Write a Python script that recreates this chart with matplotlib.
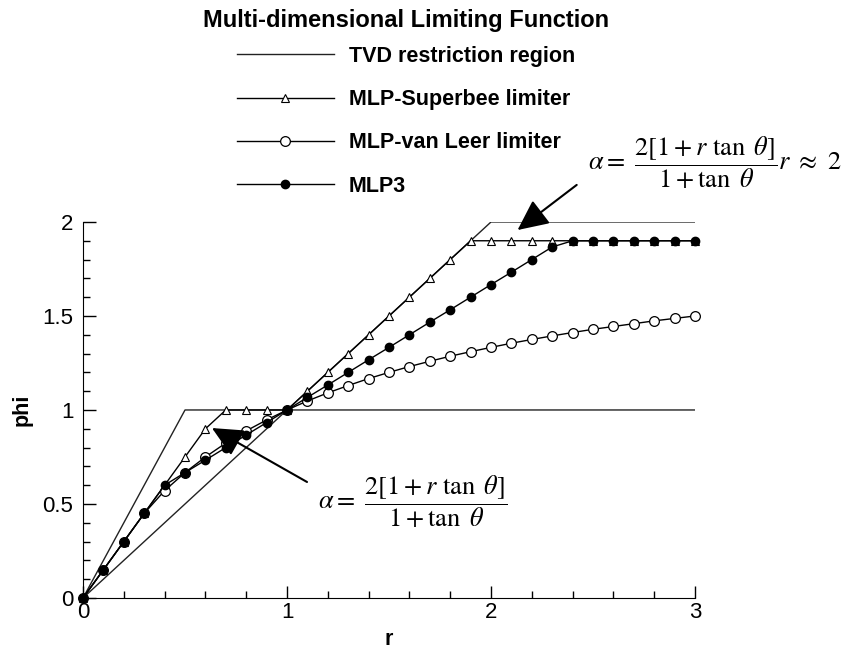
import matplotlib
matplotlib.use('Agg')
import matplotlib.pyplot as plt

plt.rcParams['font.family'] = ['Liberation Sans', 'DejaVu Sans']
plt.rcParams['mathtext.fontset'] = 'stix'

# r sample points used by the limiters
r = [0.0, 0.1, 0.2, 0.3, 0.4, 0.5, 0.6, 0.7, 0.8, 0.9, 1.0,
     1.1, 1.2, 1.3, 1.4, 1.5, 1.6, 1.7, 1.8, 1.9, 2.0,
     2.1, 2.2, 2.3, 2.4, 2.5, 2.6, 2.7, 2.8, 2.9, 3.0]

# MLP-Superbee limiter
phi_superbee = [0.0, 0.15, 0.3, 0.45, 0.6, 0.75, 0.9, 1.0, 1.0, 1.0, 1.0,
                1.1, 1.2, 1.3, 1.4, 1.5, 1.6, 1.7, 1.8, 1.9, 1.9,
                1.9, 1.9, 1.9, 1.9, 1.9, 1.9, 1.9, 1.9, 1.9, 1.9]

# MLP-van Leer limiter
phi_vanleer = [0.0, 0.15, 0.3, 0.45, 0.571, 0.667, 0.75, 0.824, 0.889, 0.947, 1.0,
               1.048, 1.091, 1.13, 1.167, 1.2, 1.231, 1.259, 1.286, 1.31, 1.333,
               1.355, 1.375, 1.394, 1.412, 1.429, 1.444, 1.459, 1.474, 1.487, 1.5]

# MLP3
phi_mlp3 = [0.0, 0.15, 0.3, 0.45, 0.6, 0.667, 0.733, 0.8, 0.867, 0.933, 1.0,
            1.067, 1.133, 1.2, 1.267, 1.333, 1.4, 1.467, 1.533, 1.6, 1.667,
            1.733, 1.8, 1.867, 1.9, 1.9, 1.9, 1.9, 1.9, 1.9, 1.9]

# TVD restriction region boundaries
tvd_lower_r = [0, 1, 3]
tvd_lower_phi = [0, 1, 1]
tvd_upper_r = [0, 0.5, 1, 2, 3]
tvd_upper_phi = [0, 1, 1, 2, 2]

xticks = [0, 1, 2, 3]
xtick_labels = ['0', '1', '2', '3']
yticks = [0, 0.5, 1, 1.5, 2]
ytick_labels = ['0', '0.5', '1', '1.5', '2']

fig = plt.figure(figsize=(8.48, 6.49), dpi=100)
ax = fig.add_axes([0.0979, 0.0786, 0.7217, 0.5794])

ax.plot(tvd_lower_r, tvd_lower_phi, color='#222222', lw=1.0, label='TVD restriction region')
ax.plot(tvd_upper_r, tvd_upper_phi, color='#222222', lw=1.0)
ax.plot(r, phi_superbee, color='k', lw=1.0, marker='^', ms=5.5, mfc='white', mec='k',
        mew=0.8, label='MLP-Superbee limiter', clip_on=False)
ax.plot(r, phi_vanleer, color='k', lw=1.0, marker='o', ms=7, mfc='white', mec='k',
        mew=0.9, label='MLP-van Leer limiter', clip_on=False)
ax.plot(r, phi_mlp3, color='k', lw=1.0, marker='o', ms=6, mfc='k', mec='k',
        label='MLP3', clip_on=False)

ax.set_xlim(0, 3)
ax.set_ylim(0, 2)
ax.set_xticks(xticks, xtick_labels)
ax.set_yticks(yticks, ytick_labels)
ax.set_xticks([0.2 * i for i in range(16)], minor=True)
ax.set_yticks([0.1 * i for i in range(21)], minor=True)
ax.tick_params(which='both', direction='in', labelsize=16, width=1.0)
ax.tick_params(which='major', length=9)
ax.tick_params(axis='x', which='major', pad=3)
ax.tick_params(axis='y', which='major', pad=7)
ax.tick_params(which='minor', length=5)
ax.spines['top'].set_visible(False)
ax.spines['right'].set_visible(False)

ax.set_xlabel('r', fontsize=15.5, fontweight='bold', labelpad=4)
ax.set_ylabel('phi', fontsize=15.5, fontweight='bold', labelpad=7)

# annotations
ax.annotate('', xy=(0.632, 0.904), xytext=(1.098, 0.617),
            arrowprops=dict(arrowstyle='-|>,head_length=0.95,head_width=0.45',
                            mutation_scale=20, lw=1.5, color='k', shrinkA=0, shrinkB=0))
ax.text(1.152, 0.51, r'$\alpha =\ \dfrac{2\left[1 + r\ \tan\ \theta\right]}{1 + \tan\ \theta}$',
        fontsize=19, ha='left', va='center')

ax.annotate('', xy=(2.13, 1.957), xytext=(2.42, 2.197), annotation_clip=False,
            arrowprops=dict(arrowstyle='-|>,head_length=0.95,head_width=0.45',
                            mutation_scale=20, lw=1.5, color='k', shrinkA=0, shrinkB=0))
ax.text(2.475, 2.314, r'$\alpha =\ \dfrac{2\left[1 + r\ \tan\ \theta\right]}{1 + \tan\ \theta}r\ \approx\ 2$',
        fontsize=19, ha='left', va='center', clip_on=False)

fig.text(406 / 848, 1 - 20 / 649, 'Multi-dimensional Limiting Function',
         fontsize=17, fontweight='bold', ha='center', va='center')

leg = ax.legend(loc='upper left', bbox_to_anchor=(237 / 848, 1 - 46 / 649),
                bbox_transform=fig.transFigure, frameon=False, numpoints=1,
                fontsize=15.5, handlelength=4.5, handletextpad=0.7,
                labelspacing=1.03, borderpad=0, borderaxespad=0)
for t in leg.get_texts():
    t.set_fontweight('bold')

fig.savefig('out.png', dpi=100)
